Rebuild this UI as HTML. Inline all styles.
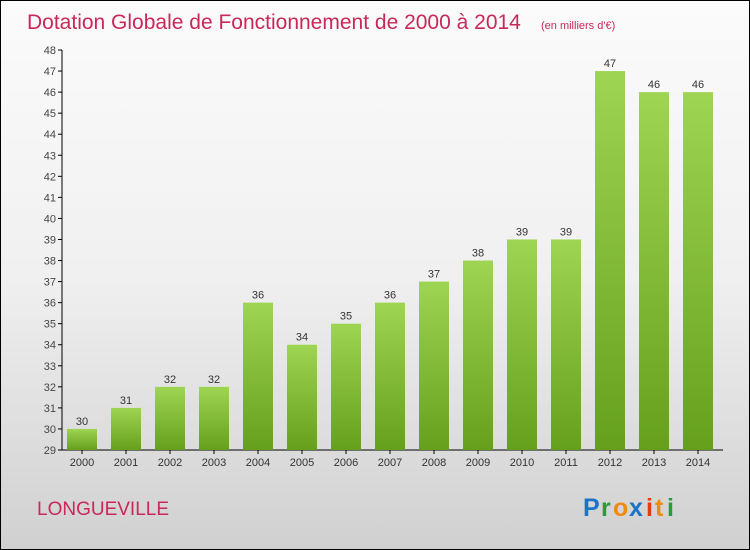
<!DOCTYPE html>
<html><head><meta charset="utf-8"><style>
body{margin:0;}
#wrap{position:relative;width:748px;height:548px;border:1px solid #000;background:linear-gradient(#fbfbfb 0%,#f0f0f0 50%,#d0d0d0 100%);overflow:hidden;font-family:"Liberation Sans",sans-serif;}
</style></head><body>
<div id="wrap">
<svg id="chart" width="748" height="548">
<defs><linearGradient id="bg" x1="0" y1="0" x2="0" y2="1"><stop offset="0" stop-color="#9ed553"/><stop offset="1" stop-color="#65a01c"/></linearGradient></defs>
<text x="26" y="28" font-size="21" fill="#c8285a">Dotation Globale de Fonctionnement de 2000 à 2014</text>
<text x="540" y="28" font-size="11" fill="#c8285a">(en milliers d'€)</text>
<text x="36" y="514" font-size="19" fill="#c8285a">LONGUEVILLE</text>
<g font-size="25" font-weight="bold">
<text x="582" y="515" fill="#1a73c8">P</text><text x="600" y="515" fill="#2a9a3a">r</text><text x="612" y="515" fill="#f08a10">o</text><text x="628" y="515" fill="#1a73c8">x</text><text x="645" y="515" fill="#e83a10">i</text><text x="654" y="515" fill="#f08a10">t</text><text x="666" y="515" fill="#2a9a3a">i</text>
</g>
</svg>
</div>
<script>
const categories=["2000","2001","2002","2003","2004","2005","2006","2007","2008","2009","2010","2011","2012","2013","2014"];
const values=[30,31,32,32,36,34,35,36,37,38,39,39,47,46,46];
const yTicks=[29,30,31,32,33,34,35,36,37,38,39,40,41,42,43,44,45,46,47,48];
const svg=document.getElementById('chart');
const NS='http://www.w3.org/2000/svg';
const yMin=29,yMax=48,y0=449,y1=49;
function y(v){return y0-(v-yMin)/(yMax-yMin)*(y0-y1);}
function x(i){return 81+i*44;}
function mk(t,a){const e=document.createElementNS(NS,t);for(const k in a)e.setAttribute(k,a[k]);svg.appendChild(e);return e;}
const ax=mk('line',{x1:61,y1:y1,x2:61,y2:y0,stroke:'#000'});


const bx=mk('line',{x1:61,y1:y0,x2:722,y2:y0,stroke:'#000'});


yTicks.forEach(v=>{
 const l=mk('line',{x1:57,y1:y(v),x2:61,y2:y(v),stroke:'#000'});
 
 
 const t=mk('text',{x:55,y:y(v)+4,'font-size':11,fill:'#444','text-anchor':'end'});
 t.textContent=v;
 
 
});
categories.forEach((c,i)=>{
 const v=values[i];
 const r=mk('rect',{x:x(i)-15,y:y(v),width:30,height:y0-y(v),fill:'url(#bg)'});
 
 
 const t=mk('text',{x:x(i),y:y(v)-4,'font-size':11,fill:'#333','text-anchor':'middle'});
 t.textContent=v;
 
 
 const tk=mk('line',{x1:x(i),y1:y0,x2:x(i),y2:y0+4,stroke:'#000'});
 
 
 const xl=mk('text',{x:x(i),y:y0+16,'font-size':11,fill:'#333','text-anchor':'middle'});
 xl.textContent=c;
 
 
});
</script>
</body></html>
